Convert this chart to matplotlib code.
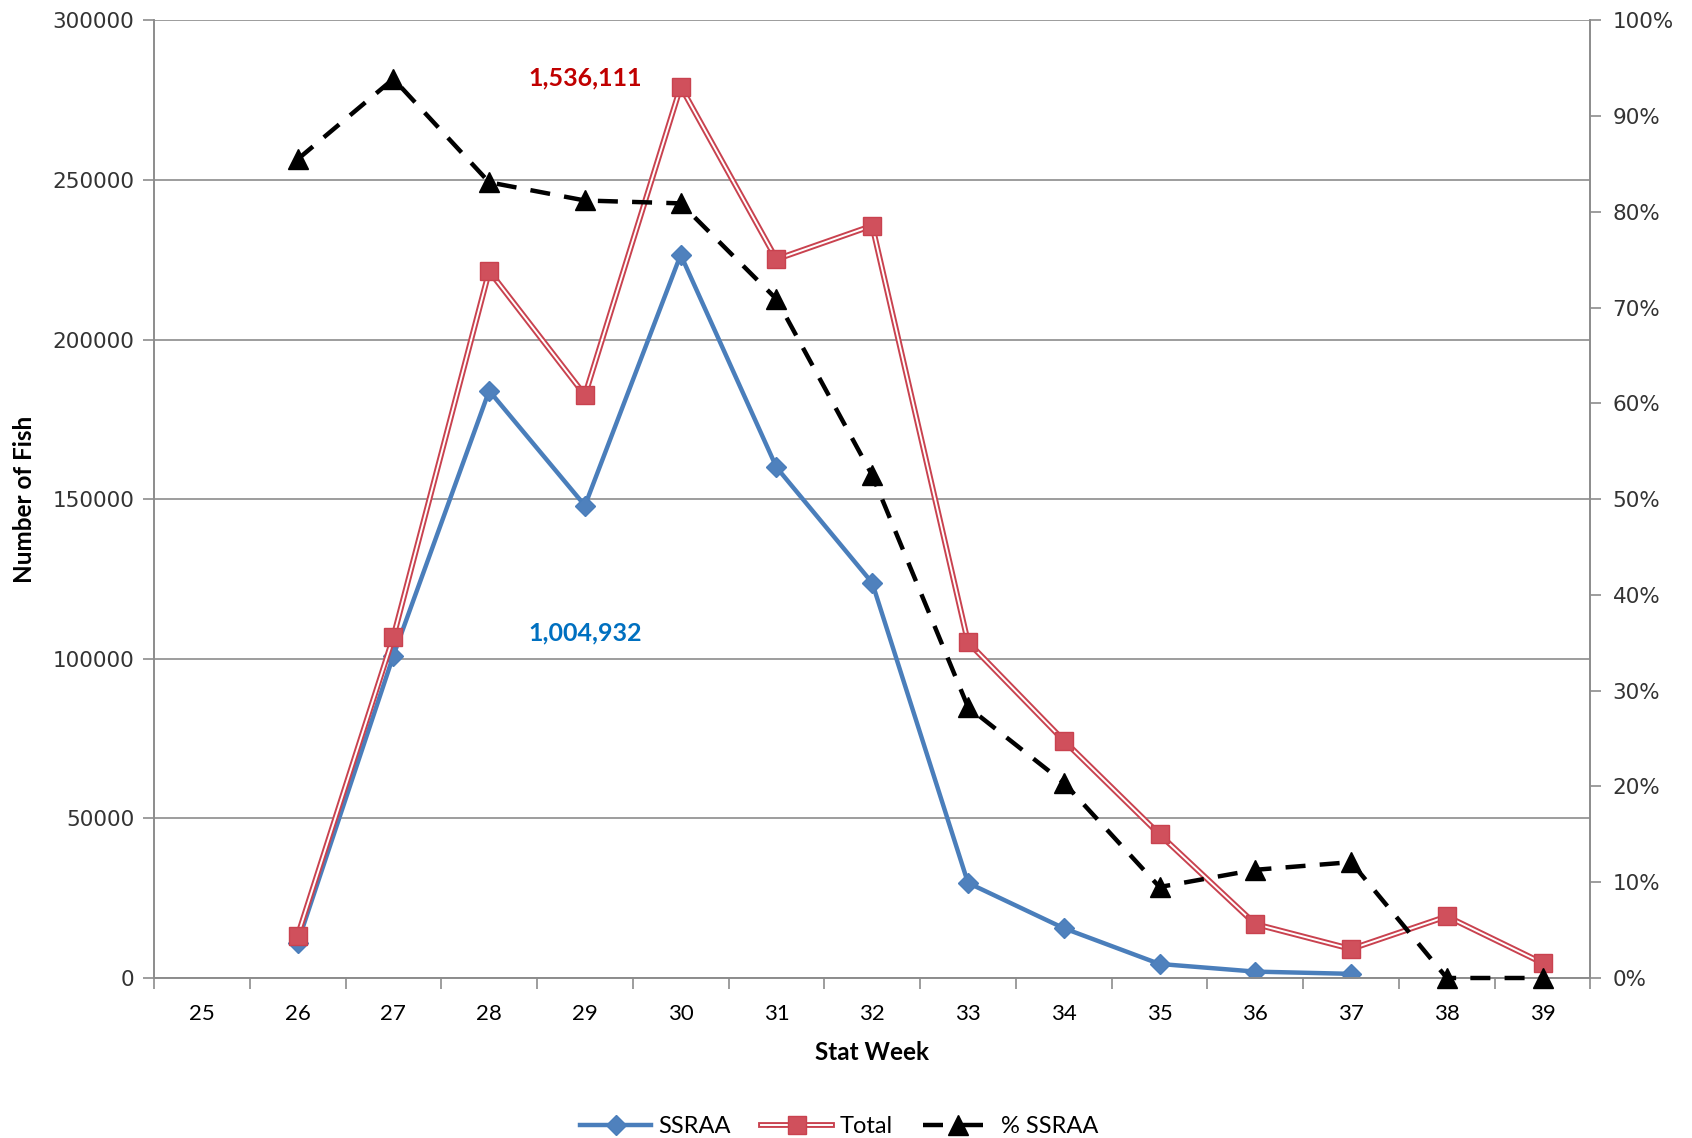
import numpy as np
import matplotlib
matplotlib.use("Agg")
import matplotlib.pyplot as plt
import matplotlib.lines as mlines
from matplotlib.ticker import FuncFormatter, FixedLocator
from matplotlib.legend_handler import HandlerTuple

# data
weeks = [25, 26, 27, 28, 29, 30, 31, 32, 33, 34, 35, 36, 37, 38, 39]
ssraa = [np.nan, 11000, 101000, 184000, 148000, 226600, 160000, 123800,
         29800, 15600, 4400, 2000, 1300, np.nan, np.nan]
total = [np.nan, 13200, 106900, 221500, 182600, 279300, 225200, 235700,
         105200, 74400, 45000, 16900, 9100, 19300, 4700]
pct_ssraa = [np.nan, 0.855, 0.939, 0.831, 0.812, 0.809, 0.709, 0.525,
             0.283, 0.204, 0.095, 0.113, 0.121, 0.0, 0.0]
total_label = "1,536,111"
ssraa_label = "1,004,932"

blue = "#4A7EBB"
red = "#C9424F"
grey = "#8C8C8C"
tick_font = "DejaVu Sans"
text_font = "Lato"

fig = plt.figure(figsize=(16.92, 11.38), dpi=100)
ax = fig.add_axes([0.091, 0.1406, 0.849, 0.8414])
ax2 = ax.twinx()

x = np.array(weeks)

# Total: double red line with square markers
ax.plot(x, total, color=red, lw=4.2, zorder=3, solid_joinstyle="miter")
ax.plot(x, total, color="white", lw=1.4, zorder=4)
ax.plot(x, total, ls="none", marker="s", ms=13, mfc="#D0505C", mec=red, zorder=5)
# SSRAA: blue line with diamonds (drawn under total)
ax.plot(x, ssraa, color=blue, lw=3.2, marker="D", ms=10.5, mfc="#4F81BD",
        mec=blue, zorder=2)

# % SSRAA on the right axis
ax2.plot(x, pct_ssraa, color="black", lw=3.2, ls=(0, (4.5, 3.2)),
         marker="^", ms=15, mfc="black", mec="black", zorder=3, clip_on=False)

ax.set_xlim(24.5, 39.5)
ax.set_ylim(0, 300000)
ax2.set_ylim(0, 1.0)

ax.set_yticks(np.arange(0, 300001, 50000))
ax.yaxis.grid(True, color=grey, lw=1.2)
ax.set_axisbelow(True)
ax.set_xticks(weeks)
ax.xaxis.set_minor_locator(FixedLocator(np.arange(24.5, 39.6, 1)))
ax.tick_params(axis="x", which="major", length=0, pad=19, labelsize=16)
ax.tick_params(axis="x", which="minor", length=8, color=grey, width=1.2)
ax.tick_params(axis="y", length=8, color=grey, width=1.2, labelsize=15.5,
               labelcolor="#333333", pad=6)
for lab in ax.get_xticklabels():
    lab.set_family(text_font)
for lab in ax.get_yticklabels():
    lab.set_family(tick_font)

ax2.set_yticks(np.arange(0, 1.01, 0.1))
ax2.yaxis.set_major_formatter(FuncFormatter(lambda v, p: f"{v*100:.0f}%"))
ax2.tick_params(axis="y", length=8, color=grey, width=1.2, labelsize=15.5,
                labelcolor="#333333", pad=8)
for lab in ax2.get_yticklabels():
    lab.set_family(tick_font)

for a in (ax, ax2):
    a.spines["top"].set_visible(False)
    for s in ("left", "right", "bottom"):
        a.spines[s].set_color(grey)
        a.spines[s].set_linewidth(1.2)

ax.set_xlabel("Stat Week", fontsize=17.5, fontweight="bold", family=text_font,
              labelpad=12)
ax.set_ylabel("Number of Fish", fontsize=17.5, fontweight="bold", family=text_font,
              labelpad=12)

ax.text(29, 282000, total_label, color="#C00000", fontsize=18, fontweight="bold",
        family=text_font, ha="center", va="center")
ax.text(29, 108000, ssraa_label, color="#0070C0", fontsize=18, fontweight="bold",
        family=text_font, ha="center", va="center")

# legend
h_ssraa = mlines.Line2D([], [], color=blue, lw=3.2, marker="D", ms=10.5,
                        mfc="#4F81BD", mec=blue)
h_tot_a = mlines.Line2D([], [], color=red, lw=4.2)
h_tot_b = mlines.Line2D([], [], color="white", lw=1.4)
h_tot_c = mlines.Line2D([], [], ls="none", marker="s", ms=13, mfc="#D0505C", mec=red)
h_pct = mlines.Line2D([], [], color="black", lw=3.2, ls=(0, (4.5, 4.5)),
                      marker="^", ms=15, mfc="black")
fig.legend([h_ssraa, (h_tot_a, h_tot_b, h_tot_c), h_pct],
           ["SSRAA", "Total", "% SSRAA"],
           handler_map={tuple: HandlerTuple(ndivide=1)},
           loc="lower center", bbox_to_anchor=(0.496, -0.018), ncol=3,
           frameon=False, handlelength=3.0, handletextpad=0.3,
           columnspacing=1.3, prop={"family": text_font, "size": 17})

fig.savefig("out.png", dpi=100)
